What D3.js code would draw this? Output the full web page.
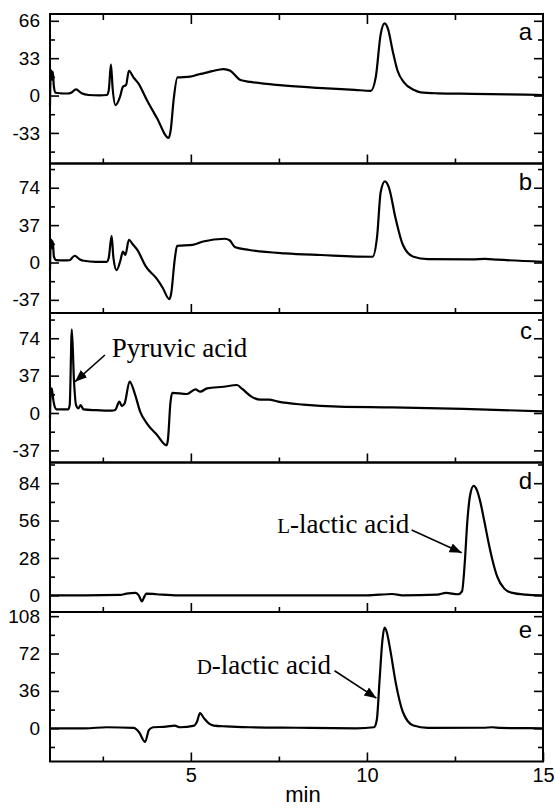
<!DOCTYPE html>
<html>
<head>
<meta charset="utf-8">
<script src="https://cdn.jsdelivr.net/npm/d3@7"></script>
<style>
  body { margin: 0; background: #fff; }
  .tick text { font-family: "Liberation Sans", Arial, sans-serif; font-size: 19px; fill: #000; }
  .tick line { stroke: #000; stroke-width: 1.6; }
</style>
</head>
<body>
<div id="chart"></div>
<script>
// retention time (min), signal
const traceA = [
    [1.0, -9], [1.02, 20], [1.04, 22], [1.06, 14], [1.08, 21], [1.11, 8], [1.16, 2.5],
    [1.3, 2], [1.5, 1.8], [1.6, 2.5], [1.74, 5.5], [1.9, 2], [2.1, 0.5], [2.4, 0.2],
    [2.62, 0.5], [2.67, 5], [2.73, 27.5], [2.78, 6], [2.86, -8.4], [2.99, -1], [3.07, 7.8],
    [3.16, 9.3], [3.24, 21.9], [3.37, 16], [3.51, 10.8], [3.75, -4], [4.04, -20], [4.37, -37.5],
    [4.43, -30], [4.51, -4], [4.62, 16], [4.98, 16.7], [5.2, 18.5], [5.36, 19.6], [5.6, 21.5],
    [5.93, 23.4], [6.12, 21.9], [6.41, 13.7], [6.7, 12], [7.6, 9], [8.6, 6.8], [9.65, 5],
    [10.11, 4.2], [10.25, 16], [10.39, 54], [10.5, 63.7], [10.6, 58.7], [10.73, 39.6],
    [10.87, 21.9], [11.05, 11.6], [11.34, 4.9], [11.53, 2.8], [12, 2], [13, 1.5], [14, 1], [15, 0.5]
];

const traceB = [
    [1.0, -8], [1.02, 20], [1.04, 22.5], [1.06, 14], [1.08, 21], [1.11, 6], [1.17, 2.4],
    [1.4, 2], [1.55, 2.2], [1.7, 6.7], [1.85, 3], [1.96, 1.7], [2.3, 0.7], [2.61, 0.7],
    [2.67, 5], [2.75, 26.5], [2.8, 5], [2.89, -7.7], [3.0, 2], [3.07, 10.8], [3.14, 7.4],
    [3.24, 22.5], [3.35, 18], [3.48, 12.4], [3.73, -4.4], [4.03, -16], [4.2, -25], [4.39, -36.3],
    [4.44, -31], [4.54, 2.4], [4.61, 16.5], [5.05, 17.5], [5.35, 20.8], [5.96, 23.5], [6.1, 22],
    [6.26, 15], [6.66, 12.4], [7.68, 9], [8.69, 7.4], [10.16, 5.7], [10.29, 26], [10.39, 69.6],
    [10.51, 80.3], [10.62, 74.6], [10.82, 42.7], [11.02, 17.5], [11.32, 5.7], [11.73, 3.4],
    [13.0, 3], [13.35, 3.6], [13.7, 2.8], [15.0, 0.7]
];

const traceC = [
    [1.0, -5], [1.02, 20], [1.05, 24.4], [1.09, 14], [1.14, 5.6], [1.19, 3.6], [1.52, 3.6],
    [1.56, 8], [1.62, 82.8], [1.68, 32.7], [1.74, 7.9], [1.81, 4.6], [1.87, 7.9], [1.95, 3.6],
    [2.3, 2.8], [2.75, 2.3], [2.85, 3], [2.97, 11.2], [3.04, 6.9], [3.12, 9.6], [3.26, 31],
    [3.42, 17.8], [3.56, 1.3], [3.75, -10.2], [4.04, -21.8], [4.31, -32], [4.35, -26],
    [4.42, 10], [4.47, 20], [4.89, 18.8], [5.13, 23.4], [5.27, 21.1], [5.46, 24.4], [5.93, 26],
    [6.31, 27.7], [6.46, 23.8], [6.72, 16.2], [6.97, 13.2], [7.22, 13.2], [7.48, 11.2],
    [8.19, 8.3], [9.2, 6.3], [10.72, 5.6], [12.74, 4], [15.0, 1.7]
];

const traceD = [
    [1.0, 0], [2.0, 0], [3.0, 0.3], [3.17, 1.3], [3.43, 1.8], [3.52, 0], [3.61, -4.6],
    [3.68, -1], [3.73, 1.3], [4.03, 0.8], [4.64, 0], [7, 0], [10.0, 0], [10.72, 1], [11.0, 0],
    [12.0, 0.5], [12.24, 1.8], [12.59, 0.8], [12.7, 3], [12.78, 25], [12.85, 55], [12.93, 75],
    [13.03, 82], [13.12, 79], [13.22, 70], [13.33, 56], [13.45, 40], [13.55, 28], [13.7, 14],
    [13.9, 5], [14.1, 2], [14.5, 0.5], [15.0, 0]
];

const traceE = [
    [1.0, 0], [2.0, 0], [2.61, 1], [3.38, 0.3], [3.53, -3.9], [3.7, -13.1], [3.81, -1.6],
    [3.93, 1], [4.3, 1.5], [4.54, 2.6], [4.69, 1], [5.1, 2.6], [5.17, 6], [5.26, 14.5],
    [5.37, 9.8], [5.5, 5], [5.65, 2.6], [6.0, 1.8], [6.66, 1], [8.0, 0.5], [9.7, 0], [10.2, 1],
    [10.28, 8], [10.36, 46.8], [10.44, 85], [10.5, 97], [10.56, 93], [10.66, 76], [10.82, 43.5],
    [11.02, 15.7], [11.32, 2.6], [11.73, 0.3], [13.3, 0.5], [13.56, 1], [13.8, 0.3], [15.0, 0]
];

const traces = [traceA, traceB, traceC, traceD, traceE];
const panelLetters = ['a', 'b', 'c', 'd', 'e'];
const yDomains = [[-60, 72], [-50, 98], [-49, 99], [-12.5, 99.5], [-32, 112]];
const yTickLabels = [[-33, 0, 33, 66], [-37, 0, 37, 74], [-37, 0, 37, 74], [0, 28, 56, 84], [0, 36, 72, 108]];
const xDomain = [1, 15];
const xMajor = [5, 10, 15];
const xMinor = [2.5, 7.5, 12.5];

// arrow tip, arrow tail, text anchor -- [min, signal] in the panel's own units
const notes = [
    {panel: 2, text: ['', 'Pyruvic acid'], tip: [1.71, 31], tail: [2.56, 57.4], at: [2.75, 55], anchor: 'start'},
    {panel: 3, text: ['L', '-lactic acid'], tip: [12.69, 31.9], tail: [11.27, 48.9], at: [11.2, 46.5], anchor: 'end'},
    {panel: 4, text: ['D', '-lactic acid'], tip: [10.27, 29], tail: [9.08, 55.4], at: [8.98, 51.9], anchor: 'end'}
];

const chartWidth = 555;
const chartHeight = 808;
const left = 50;
const right = 543;
const top0 = 14;
const panelH = 149.5;

const svg = d3.select('#chart')
    .append('svg')
    .attr('width', chartWidth)
    .attr('height', chartHeight)
    .style('background', '#fff');

svg.append('defs')
    .append('marker')
    .attr('id', 'head')
    .attr('viewBox', '0 0 10 10')
    .attr('refX', 10)
    .attr('refY', 5)
    .attr('markerWidth', 12)
    .attr('markerHeight', 12)
    .attr('markerUnits', 'userSpaceOnUse')
    .attr('orient', 'auto')
    .append('path')
    .attr('d', 'M0,1 L10,5 L0,9 Z')
    .attr('fill', '#000');

const xScale = d3.scaleLinear()
    .domain(xDomain)
    .range([left, right]);

traces.forEach((trace, i) => {
    const top = top0 + i * panelH;
    const bottom = top + panelH;
    const yScale = d3.scaleLinear()
        .domain(yDomains[i])
        .range([bottom, top]);

    const step = yTickLabels[i][1] - yTickLabels[i][0];
    const yMinor = d3.range(yTickLabels[i][0] - step * 1.5, yDomains[i][1], step)
        .filter(v => v > yDomains[i][0] && v < yDomains[i][1]);

    const g = svg.append('g');

    // y axes, ticks pointing inward on both sides
    g.append('g')
        .attr('transform', 'translate(' + left + ',0)')
        .call(d3.axisLeft(yScale).tickValues(yTickLabels[i]).tickSize(-9).tickPadding(10)
            .tickFormat(d => String(d)));
    g.append('g')
        .attr('transform', 'translate(' + left + ',0)')
        .call(d3.axisLeft(yScale).tickValues(yMinor).tickSize(-5).tickFormat(''));
    g.append('g')
        .attr('transform', 'translate(' + right + ',0)')
        .call(d3.axisRight(yScale).tickValues(yTickLabels[i]).tickSize(-9).tickFormat(''));
    g.append('g')
        .attr('transform', 'translate(' + right + ',0)')
        .call(d3.axisRight(yScale).tickValues(yMinor).tickSize(-5).tickFormat(''));

    // x ticks along the bottom of every panel
    const xAxis = d3.axisBottom(xScale).tickValues(i === 4 ? xMajor : [5, 10]).tickSize(-9).tickPadding(6);
    if (i !== 4) xAxis.tickFormat('');
    g.append('g')
        .attr('class', 'x-axis')
        .attr('transform', 'translate(0,' + bottom + ')')
        .call(xAxis);
    g.append('g')
        .attr('transform', 'translate(0,' + bottom + ')')
        .call(d3.axisBottom(xScale).tickValues(xMinor).tickSize(-5).tickFormat(''));

    if (i === 0) {
        g.append('g')
            .attr('transform', 'translate(0,' + top + ')')
            .call(d3.axisTop(xScale).tickValues([5, 10]).tickSize(-10).tickFormat(''));
        g.append('g')
            .attr('transform', 'translate(0,' + top + ')')
            .call(d3.axisTop(xScale).tickValues(xMinor).tickSize(-6).tickFormat(''));
    }

    g.selectAll('.domain').remove();
    g.selectAll('.x-axis .tick text').style('font-size', '20px');

    g.append('rect')
        .attr('x', left)
        .attr('y', top)
        .attr('width', right - left)
        .attr('height', panelH)
        .attr('fill', 'none')
        .attr('stroke', '#000')
        .attr('stroke-width', 2);

    const line = d3.line()
        .x(d => xScale(d[0]))
        .y(d => yScale(d[1]))
        .curve(d3.curveMonotoneX);

    g.append('path')
        .datum(trace)
        .attr('d', line)
        .attr('fill', 'none')
        .attr('stroke', '#000')
        .attr('stroke-width', 2.2)
        .attr('stroke-linejoin', 'round');

    g.append('text')
        .attr('x', right - 11)
        .attr('y', top + 26)
        .attr('text-anchor', 'end')
        .attr('font-family', '"Liberation Sans", Arial, sans-serif')
        .attr('font-size', 24)
        .text(panelLetters[i]);

    notes.filter(n => n.panel === i).forEach(n => {
        g.append('line')
            .attr('x1', xScale(n.tail[0]))
            .attr('y1', yScale(n.tail[1]))
            .attr('x2', xScale(n.tip[0]))
            .attr('y2', yScale(n.tip[1]))
            .attr('stroke', '#000')
            .attr('stroke-width', 1.6)
            .attr('marker-end', 'url(#head)');
        const t = g.append('text')
            .attr('x', xScale(n.at[0]))
            .attr('y', yScale(n.at[1]))
            .attr('text-anchor', n.anchor)
            .attr('font-family', '"Liberation Serif", "Times New Roman", serif')
            .attr('font-size', 27);
        if (n.text[0]) t.append('tspan').attr('font-size', 21).text(n.text[0]);
        t.append('tspan').text(n.text[1]);
    });
});

svg.append('text')
    .attr('x', 303)
    .attr('y', 802)
    .attr('text-anchor', 'middle')
    .attr('font-family', '"Liberation Sans", Arial, sans-serif')
    .attr('font-size', 22)
    .text('min');
</script>
</body>
</html>
